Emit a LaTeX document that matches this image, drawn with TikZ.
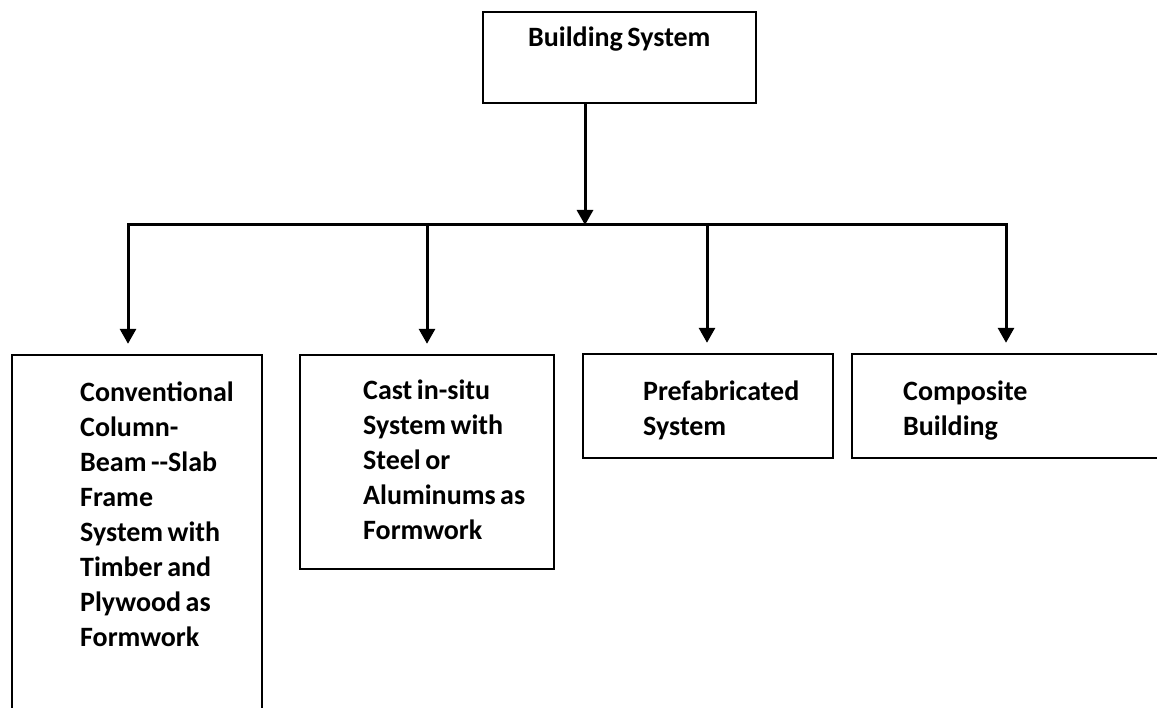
\documentclass[tikz,border=0pt]{standalone}
\usepackage{fontspec}
\setmainfont{Carlito}
\usetikzlibrary{arrows.meta,positioning}

\begin{document}
\begin{tikzpicture}[x=1pt,y=-1pt,
  box/.style={draw,line width=2.4pt,inner sep=0pt},
  boxtext/.style={anchor=base west,inner sep=0pt,text width=#1,
    font=\bfseries\fontsize{28}{35}\selectfont,
    execute at begin node={\spaceskip=4.5pt\relax}},
  link/.style={line width=3pt,-{Triangle[width=16pt,length=15pt]}}]
\clip (0,0) rectangle (1157,708);
% boxes
\node[box,minimum width=273pt,minimum height=91pt] (bsys) at (619.5,57.5) {};
\node[box,minimum width=250pt,minimum height=375pt] (conv) at (137,542.5) {};
\node[box,minimum width=254pt,minimum height=214pt] (cast) at (427,462) {};
\node[box,minimum width=250pt,minimum height=104pt] (prefab) at (708,406) {};
\node[box,minimum width=310pt,minimum height=104pt] (comp) at (1007,406) {};
% texts
\node[boxtext=220pt] (bsystext) at (528,47) {Building System};
\node[boxtext=180pt] (convtext) at (80,402) {Conventional\\Column-\\Beam {-}{-}Slab\\Frame\\System with\\Timber and\\Plywood as\\Formwork};
\node[boxtext=185pt] (casttext) at (363,400) {Cast in-situ\\System with\\Steel or\\Aluminums as\\Formwork};
\node[boxtext=185pt] (prefabtext) at (643,401) {Prefabricated\\System};
\node[boxtext=185pt] (comptext) at (903,401) {Composite\\Building};
% connectors
\coordinate (bus) at (585,225);
\coordinate (b1) at (128,225);
\coordinate (b2) at (427,225);
\coordinate (b3) at (707,225);
\coordinate (b4) at (1006,225);
\draw[line width=3pt,line cap=rect] (b1) -- (b4);
\draw[link] (bus |- bsys.south) -- (bus);
\foreach \b/\t in {b1/conv,b2/cast,b3/prefab,b4/comp}
  \draw[link,shorten >=10pt] (\b) -- (\b |- \t.north);
\end{tikzpicture}
\end{document}
